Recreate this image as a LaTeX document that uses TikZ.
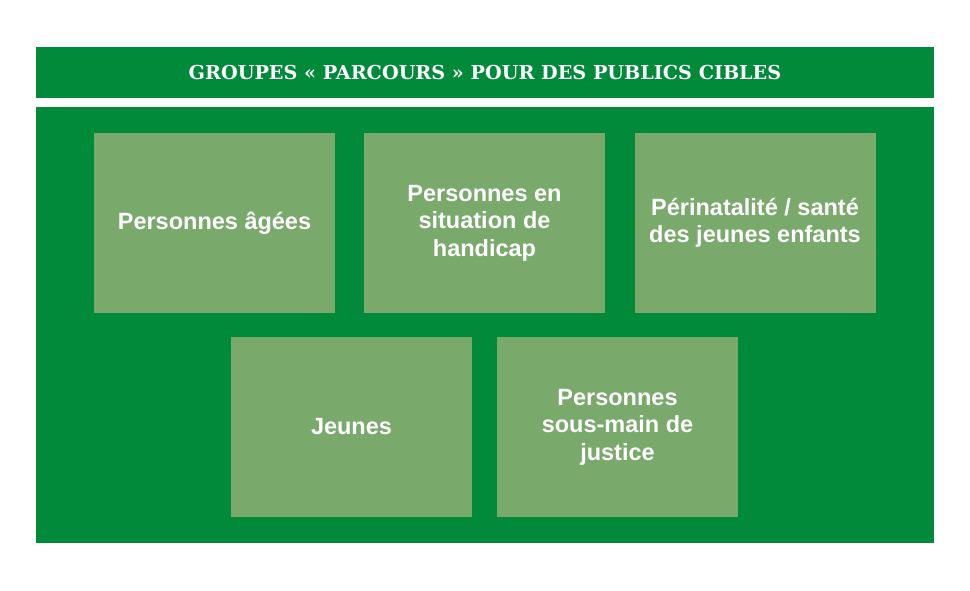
\documentclass[tikz,border=0pt]{standalone}
\usepackage{fontspec}
\setmainfont{Liberation Sans}
\newfontfamily\titlefont{DejaVu Serif}
\definecolor{darkgreen}{HTML}{008A3A}
\definecolor{boxgreen}{HTML}{79AA6C}
\begin{document}
\begin{tikzpicture}[x=1pt,y=-1pt,
  public/.style={fill=boxgreen,minimum width=241pt,minimum height=180pt,
    align=center,text=white,font=\fontsize{23.5}{27.5}\selectfont\bfseries}]
\useasboundingbox (0,0) rectangle (970,590);
\fill[darkgreen] (36,47) rectangle (934,98);
\node[text=white,font=\titlefont\fontsize{19.2}{22}\selectfont\bfseries] (title) at (485,73) {GROUPES « PARCOURS » POUR DES PUBLICS CIBLES};
\fill[darkgreen] (36,107) rectangle (934,543);
% first row
\node[public] (ages) at (214.5,223) {Personnes âgées};
\node[public] (handicap) at (484.5,223) {Personnes en\\situation de\\handicap};
\node[public] (perinat) at (755,223) {Périnatalité / santé\\des jeunes enfants};
% second row
\node[public] (jeunes) at (351.5,427) {Jeunes};
\node[public] (justice) at (617.5,427) {Personnes\\sous-main de\\justice};
\end{tikzpicture}
\end{document}
